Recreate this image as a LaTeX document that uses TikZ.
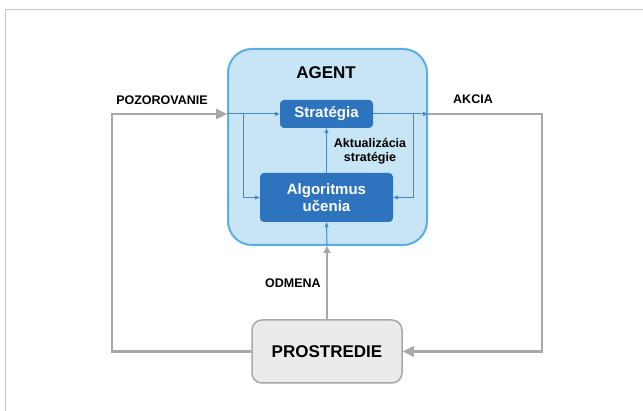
\documentclass[tikz,border=0pt]{standalone}
\usepackage{fontspec}
\setmainfont{Liberation Sans}
\usetikzlibrary{arrows.meta}
\definecolor{agentfill}{HTML}{C8E5F6}
\definecolor{agentline}{HTML}{5AAEE0}
\definecolor{innerblue}{HTML}{2E73BD}
\definecolor{thinblue}{HTML}{4A88C4}
\definecolor{flowgray}{HTML}{A8A8A8}
\definecolor{envfill}{HTML}{EBEBEB}
\definecolor{framegray}{HTML}{C8C8C8}
\tikzset{
FRAME/.style={draw=framegray, line width=1pt},
AGENTBOX/.style={draw=agentline, fill=agentfill, line width=2pt, rounded corners=24pt},
INNER/.style={fill=innerblue, rounded corners=4pt, text=white, align=center,
  font=\bfseries\fontsize{15}{16.5}\selectfont},
ENVBOX/.style={draw=flowgray, fill=envfill, line width=1.5pt, rounded corners=10pt,
  font=\bfseries\fontsize{17}{19}\selectfont},
LABEL/.style={align=center, font=\bfseries\fontsize{12.5}{14}\selectfont},
GLINE/.style={draw=flowgray, line width=2.5pt},
GARROW/.style={GLINE, -{Triangle[length=11pt,width=10pt]}},
BLINE/.style={draw=thinblue, line width=1pt, -{Triangle[length=5pt,width=4pt]}},
}
\begin{document}
\begin{tikzpicture}[x=1pt,y=-1pt]
\useasboundingbox (0,0) rectangle (643,411);
\fill[white] (0,0) rectangle (643,411);
\draw[FRAME] (5,411) -- (5,9.5) -- (643,9.5);

% agent and its parts
\node[AGENTBOX, minimum width=199pt, minimum height=196pt] (agent) at (327.5,147) {};
\node[font=\bfseries\fontsize{17}{19}\selectfont] (agenttitle) at (326,73) {AGENT};
\node[INNER, minimum width=93pt, minimum height=28pt] (strat) at (326.5,114) {Stratégia};
\node[INNER, minimum width=133pt, minimum height=49pt] (alg) at (326.5,197.5) {Algoritmus\\učenia};
\node[ENVBOX, minimum width=150pt, minimum height=63pt] (env) at (327,351.5) {PROSTREDIE};

\coordinate (obsin) at (agent.west |- strat);
\coordinate (actout) at (agent.east |- strat);
\coordinate (obsj) at (243,114);
\coordinate (actj) at (413,114);
\coordinate (leftc) at (112,114);
\coordinate (rightc) at (542,114);
\coordinate (rewin) at (env.north |- agent.south);

% outer loop
\draw[GARROW] (env.west) -| (leftc) -- (obsin);
\draw[GARROW] (actout) -- (rightc) |- (env.east);
\draw[GLINE, -{Triangle[length=7pt,width=7pt]}] (env.north) -- (rewin);

% inside the agent
\draw[BLINE] (obsin) -- (strat.west);
\draw[BLINE] (obsj) |- (alg.west);
\draw[BLINE] (strat.east) -- (actout);
\draw[BLINE] (actj) |- (alg.east);
\draw[BLINE] (alg.north) -- (strat.south);
\draw[BLINE] (rewin) -- (alg.south);

\node[LABEL] (obslabel) at (162,100) {POZOROVANIE};
\node[LABEL] (actlabel) at (473,99) {AKCIA};
\node[LABEL] (rewlabel) at (293,283) {ODMENA};
\node[LABEL] (updlabel) at (370,151) {Aktualizácia\\stratégie};
\end{tikzpicture}
\end{document}
